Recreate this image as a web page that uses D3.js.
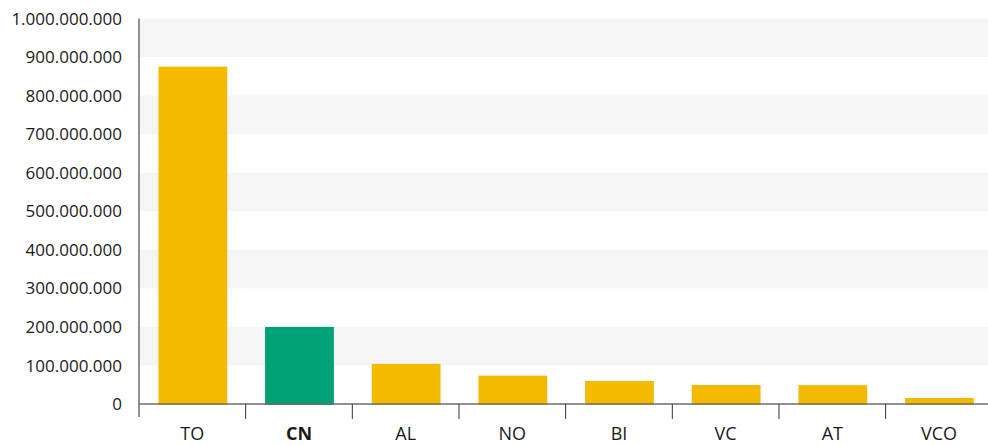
<!DOCTYPE html>
<html>
<head>
<meta charset="utf-8">
<script src="https://cdn.jsdelivr.net/npm/d3@7"></script>
<style>
  html, body { margin: 0; padding: 0; background: #fff; }
  svg { display: block; }
  text { font-family: "Open Sans", sans-serif; fill: #1a1a1a; }
</style>
</head>
<body>
<div id="chart"></div>
<script>
const categories = ["TO", "CN", "AL", "NO", "BI", "VC", "AT", "VCO"];
const values = [875000000, 200000000, 104000000, 73500000, 59700000, 49300000, 49000000, 15600000];
const highlight = ["CN"];
const yTicks = [0, 100000000, 200000000, 300000000, 400000000, 500000000, 600000000, 700000000, 800000000, 900000000, 1000000000];

const W = 988, H = 445;
const mLeft = 139, mRight = 992.3, mTop = 18.5, mBottom = 404;

const svg = d3.select("#chart").append("svg").attr("width", W).attr("height", H);

const x = d3.scaleBand().domain(categories).range([mLeft, mRight]).padding(0);
const y = d3.scaleLinear().domain([0, 1000000000]).range([mBottom, mTop]);

const fmt = v => d3.format(",")(v).replace(/,/g, ".");

// alternating bands
const bands = [];
for (let i = 0; i < yTicks.length - 1; i++) {
  if (i % 2 === 1) bands.push([yTicks[i], yTicks[i + 1]]);
}
svg.append("g").selectAll("rect").data(bands).join("rect")
  .attr("x", mLeft).attr("width", W - mLeft)
  .attr("y", d => y(d[1])).attr("height", d => y(d[0]) - y(d[1]))
  .attr("fill", "#f5f5f5");

// bars
const data = categories.map((c, i) => ({ c, v: values[i] }));
const bw = x.bandwidth() * 0.645;
svg.append("g").selectAll("rect").data(data).join("rect")
  .attr("x", d => x(d.c) + x.bandwidth() / 2 - bw / 2 + 0.5)
  .attr("width", bw)
  .attr("y", d => y(d.v))
  .attr("height", d => y(0) - y(d.v) + 1)
  .attr("fill", d => highlight.includes(d.c) ? "#00a275" : "#f4ba00");

// x axis line & ticks
const axisColor = "#6e6e6e";
svg.append("line").attr("x1", mLeft).attr("x2", W).attr("y1", mBottom).attr("y2", mBottom)
  .attr("stroke", axisColor).attr("stroke-width", 1.3);
svg.append("g").selectAll("line").data(categories.slice(1)).join("line")
  .attr("x1", d => x(d)).attr("x2", d => x(d))
  .attr("y1", mBottom).attr("y2", mBottom + 15)
  .attr("stroke", "#333").attr("stroke-width", 1);
// y axis line
svg.append("line").attr("x1", mLeft).attr("x2", mLeft).attr("y1", mTop).attr("y2", mBottom + 13)
  .attr("stroke", axisColor).attr("stroke-width", 1.5);

// y labels
svg.append("g").selectAll("text").data(yTicks).join("text")
  .attr("x", 122).attr("y", d => y(d)).attr("dy", "0.36em")
  .attr("text-anchor", "end").attr("font-size", 17)
  .text(d => fmt(d));

// x labels
svg.append("g").selectAll("text").data(categories).join("text")
  .attr("x", d => x(d) + x.bandwidth() / 2).attr("y", 439.5)
  .attr("text-anchor", "middle").attr("font-size", 18)
  .attr("font-weight", d => highlight.includes(d) ? "bold" : "normal")
  .text(d => d);
</script>
</body>
</html>
